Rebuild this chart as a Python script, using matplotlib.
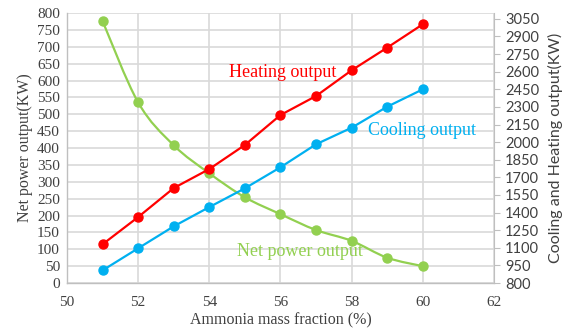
import matplotlib
matplotlib.use("Agg")
import matplotlib.pyplot as plt
import numpy as np
from matplotlib.path import Path
from matplotlib.patches import PathPatch

# data
fraction = [51, 52, 53, 54, 55, 56, 57, 58, 59, 60]
net_power = [776, 535, 408, 325, 254, 204, 157, 125, 75, 50]
heating = [1130, 1362, 1609, 1771, 1976, 2231, 2393, 2612, 2805, 3004]
cooling = [908, 1096, 1283, 1447, 1607, 1786, 1982, 2123, 2302, 2450]

left_ticks = list(range(0, 801, 50))
right_ticks = list(range(800, 3051, 150))
x_ticks = list(range(50, 63, 2))

RED = '#FF0000'
BLUE = '#00B0F0'
GREEN = '#92D050'
GRID = '#D9D9D9'
SERIF = 'Liberation Serif'
SANS = 'Lato'


def smooth_path(xs, ys):
    """Bezier path through the points (like Excel's smoothed line)."""
    pts = np.column_stack([xs, ys]).astype(float)
    n = len(pts)
    verts = [pts[0]]
    codes = [Path.MOVETO]
    for i in range(n - 1):
        p0 = pts[i - 1] if i > 0 else pts[i]
        p1 = pts[i]
        p2 = pts[i + 1]
        p3 = pts[i + 2] if i + 2 < n else pts[i + 1]
        c1 = p1 + (p2 - p0) / 6.0
        c2 = p2 - (p3 - p1) / 6.0
        verts += [c1, c2, p2]
        codes += [Path.CURVE4] * 3
    return Path(verts, codes)


fig = plt.figure(figsize=(5.76, 3.33), dpi=100)
ax = fig.add_axes([0.1163, 0.150, 0.7413, 0.811])
ax2 = ax.twinx()

# grid
ax.set_xlim(50, 62)
ax.set_ylim(0, 800)
ax.set_xticks(x_ticks)
ax.set_yticks(left_ticks)
ax.grid(True, color=GRID, linewidth=1.2)
ax.set_axisbelow(True)
for s in ['top', 'right']:
    ax.spines[s].set_visible(False)
for s in ['left', 'bottom']:
    ax.spines[s].set_color('#BFBFBF')
    ax.spines[s].set_linewidth(1.0)
ax.tick_params(axis='both', length=0, labelsize=11, colors='#404040', pad=5)
for lab in ax.get_xticklabels() + ax.get_yticklabels():
    lab.set_fontfamily(SERIF)
ax.tick_params(axis='x', pad=9)

# net power (smoothed)
ax.add_patch(PathPatch(smooth_path(fraction, net_power), facecolor='none',
                       edgecolor=GREEN, linewidth=1.6, zorder=3))
ax.plot(fraction, net_power, linestyle='none', marker='o', markersize=6.5,
        color=GREEN, zorder=4)

# right axis
ax2.set_ylim(800, 3100)
ax2.set_yticks(right_ticks)
for s in ['top', 'left', 'bottom']:
    ax2.spines[s].set_visible(False)
ax2.spines['right'].set_color('#BFBFBF')
ax2.tick_params(axis='y', length=4, color='#BFBFBF', labelsize=10.5,
                colors='#404040', pad=4)
for lab in ax2.get_yticklabels():
    lab.set_fontfamily(SANS)
    lab.set_color('#404040')

ax2.plot(fraction, heating, color=RED, linewidth=1.6, marker='o', markersize=6.5)
ax2.plot(fraction, cooling, color=BLUE, linewidth=1.6, marker='o', markersize=6.5)

# labels
ax.set_xlabel('Ammonia mass fraction (%)', fontfamily=SERIF, fontsize=11.5,
              color='#404040', labelpad=3)
ax.set_ylabel('Net power output(KW)', fontfamily=SERIF, fontsize=11.5,
              color='#404040', labelpad=3)
ax2.set_ylabel('Cooling and Heating output(KW)', fontfamily=SANS, fontsize=11.5,
               color='#404040', labelpad=6)

ax.text(56.06, 625, 'Heating output', color=RED, fontfamily=SERIF,
        fontsize=13, ha='center', va='center')
ax.text(59.97, 453, 'Cooling output', color=BLUE, fontfamily=SERIF,
        fontsize=13, ha='center', va='center')
ax.text(56.56, 92, 'Net power output', color=GREEN, fontfamily=SERIF,
        fontsize=13, ha='center', va='center')

fig.savefig('out.png', dpi=100)
